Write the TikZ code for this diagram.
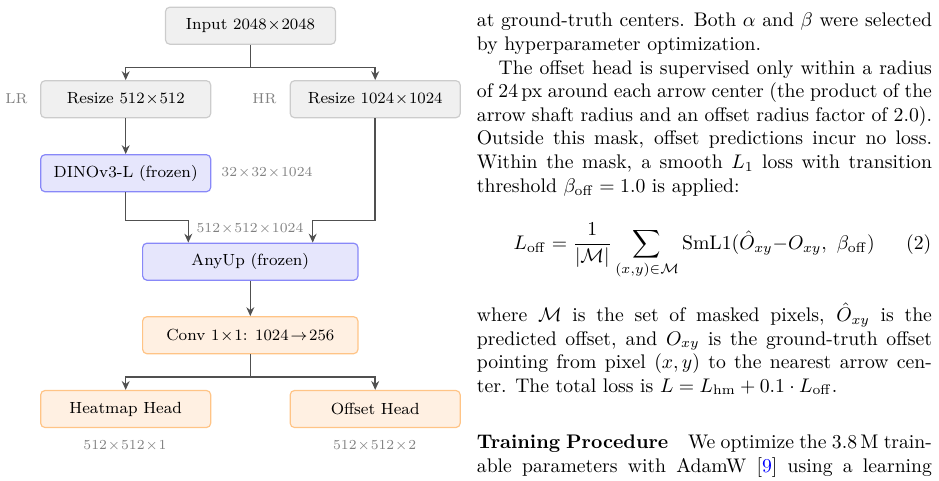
\documentclass[tikz,border=0pt]{standalone}
\usetikzlibrary{arrows.meta,calc}
\definecolor{gfill}{HTML}{F0F0F0}
\definecolor{gdraw}{HTML}{CCCCCC}
\definecolor{bfill}{HTML}{E6E6FC}
\definecolor{bdraw}{HTML}{8888F8}
\definecolor{ofill}{HTML}{FFF0E2}
\definecolor{odraw}{HTML}{FFC486}
\definecolor{arrc}{HTML}{505050}
\definecolor{lblc}{HTML}{808080}
\newlength{\colw}
\setlength{\colw}{231pt}
\tikzset{
  box/.style={rounded corners=2.2pt, line width=0.6pt, minimum width=86.3pt, minimum height=18.8pt, inner sep=0pt, font=\fontsize{8.2}{10}\selectfont},
  gbox/.style={box, fill=gfill, draw=gdraw},
  bbox/.style={box, fill=bfill, draw=bdraw},
  obox/.style={box, fill=ofill, draw=odraw},
  wide/.style={minimum width=109.3pt},
  arr/.style={draw=arrc, line width=0.8pt, -{Stealth[length=4.5pt,width=4pt]}},
  conn/.style={draw=arrc, line width=0.8pt},
  lbl/.style={text=lblc, font=\fontsize{7.3}{9}\selectfont, inner sep=0pt},
  txt/.style={anchor=base west, inner sep=0pt, font=\fontsize{10}{12}\selectfont}
}
\begin{document}
\begin{tikzpicture}[x=0.5076pt, y=-0.5076pt]
\useasboundingbox (0,0) rectangle (939,480);
% diagram
\node[gbox] (in) at (250.5,25.7) {Input $2048\!\times\!2048$};
\node[gbox] (r1) at (125.7,99.2) {Resize $512\!\times\!512$};
\node[gbox] (r2) at (375.2,99.2) {Resize $1024\!\times\!1024$};
\node[lbl] (lr) at (16.5,99.2) {LR};
\node[lbl] (hr) at (264.5,99.2) {HR};
\node[bbox] (dino) at (125.7,173.2) {DINOv3-L (frozen)};
\node[lbl] (l32) at (267,173.2) {$32\!\times\!32\!\times\!1024$};
\node[bbox, wide] (any) at (250.3,261.7) {AnyUp (frozen)};
\node[lbl] (l512) at (250,229) {$512\!\times\!512\!\times\!1024$};
\node[obox, wide] (conv) at (250.3,335.2) {Conv $1\!\times\!1$: $1024\!\rightarrow\!256$};
\node[obox] (hm) at (125.7,409) {Heatmap Head};
\node[obox] (off) at (375.2,409) {Offset Head};
\node[lbl] (lhm) at (125,445.7) {$512\!\times\!512\!\times\!1$};
\node[lbl] (loff) at (374.7,445.7) {$512\!\times\!512\!\times\!2$};
\coordinate (s1) at (250.5,67.7);
\coordinate (j1) at (188.3,220.7);
\coordinate (j2) at (312.7,220.7);
\coordinate (s2) at (250.3,376.7);
\draw[conn] (in.south) -- (s1);
\draw[arr] (s1) -| (r1.north);
\draw[arr] (s1) -| (r2.north);
\draw[arr] (r1.south) -- (dino.north);
\draw[arr] (dino.south) |- (j1) -- (j1 |- any.north);
\draw[arr] (r2.south) |- (j2) -- (j2 |- any.north);
\draw[arr] (any.south) -- (conv.north);
\draw[conn] (conv.south) -- (s2);
\draw[arr] (s2) -| (hm.north);
\draw[arr] (s2) -| (off.north);
% text column
\node[txt] (t1) at (476.5,26.7) {\hbox to \colw{at ground-truth centers. Both $\alpha$ and $\beta$ were selected}};
\node[txt] (t2) at (476.5,50.3) {by hyperparameter optimization.};
\node[txt] (t3) at (476.5,74) {\hbox to \colw{\hskip 11pt The offset head is supervised only within a radius}};
\node[txt] (t4) at (476.5,97.6) {\hbox to \colw{of 24\,px around each arrow center (the product of the}};
\node[txt] (t5) at (476.5,121.2) {\hbox to \colw{arrow shaft radius and an offset radius factor of 2.0).}};
\node[txt] (t6) at (476.5,144.9) {\hbox to \colw{Outside this mask, offset predictions incur no loss.}};
\node[txt] (t7) at (476.5,168.5) {\hbox to \colw{Within the mask, a smooth $L_1$ loss with transition}};
\node[txt] (t8) at (476.5,192.2) {threshold $\beta_{\mathrm{off}} = 1.0$ is applied:};
\node[txt] (eq) at (513.3,249.3) {$\displaystyle L_{\mathrm{off}} = \frac{1}{|\mathcal{M}|}\sum_{(x,y)\in\mathcal{M}} \mathrm{SmL1}(\hat{O}_{xy}{-}O_{xy},\ \beta_{\mathrm{off}})$};
\node[txt, anchor=base east] (eqn) at (931.7,249.3) {(2)};
\node[txt] (t9) at (476.5,321.4) {\hbox to \colw{where $\mathcal{M}$ is the set of masked pixels, $\hat{O}_{xy}$ is the}};
\node[txt] (t10) at (476.5,345) {\hbox to \colw{predicted offset, and $O_{xy}$ is the ground-truth offset}};
\node[txt] (t11) at (476.5,368.5) {\hbox to \colw{pointing from pixel $(x,y)$ to the nearest arrow cen-}};
\node[txt] (t12) at (476.5,392) {ter. The total loss is $L = L_{\mathrm{hm}} + 0.1 \cdot L_{\mathrm{off}}$.};
\node[txt] (t13) at (476.5,448.3) {\hbox to \colw{\textbf{Training Procedure}\quad We optimize the 3.8\,M train-}};
\node[txt] (t14) at (476.5,472.3) {\hbox to \colw{able parameters with AdamW [\textcolor{blue}{9}] using a learning}};
\end{tikzpicture}
\end{document}
